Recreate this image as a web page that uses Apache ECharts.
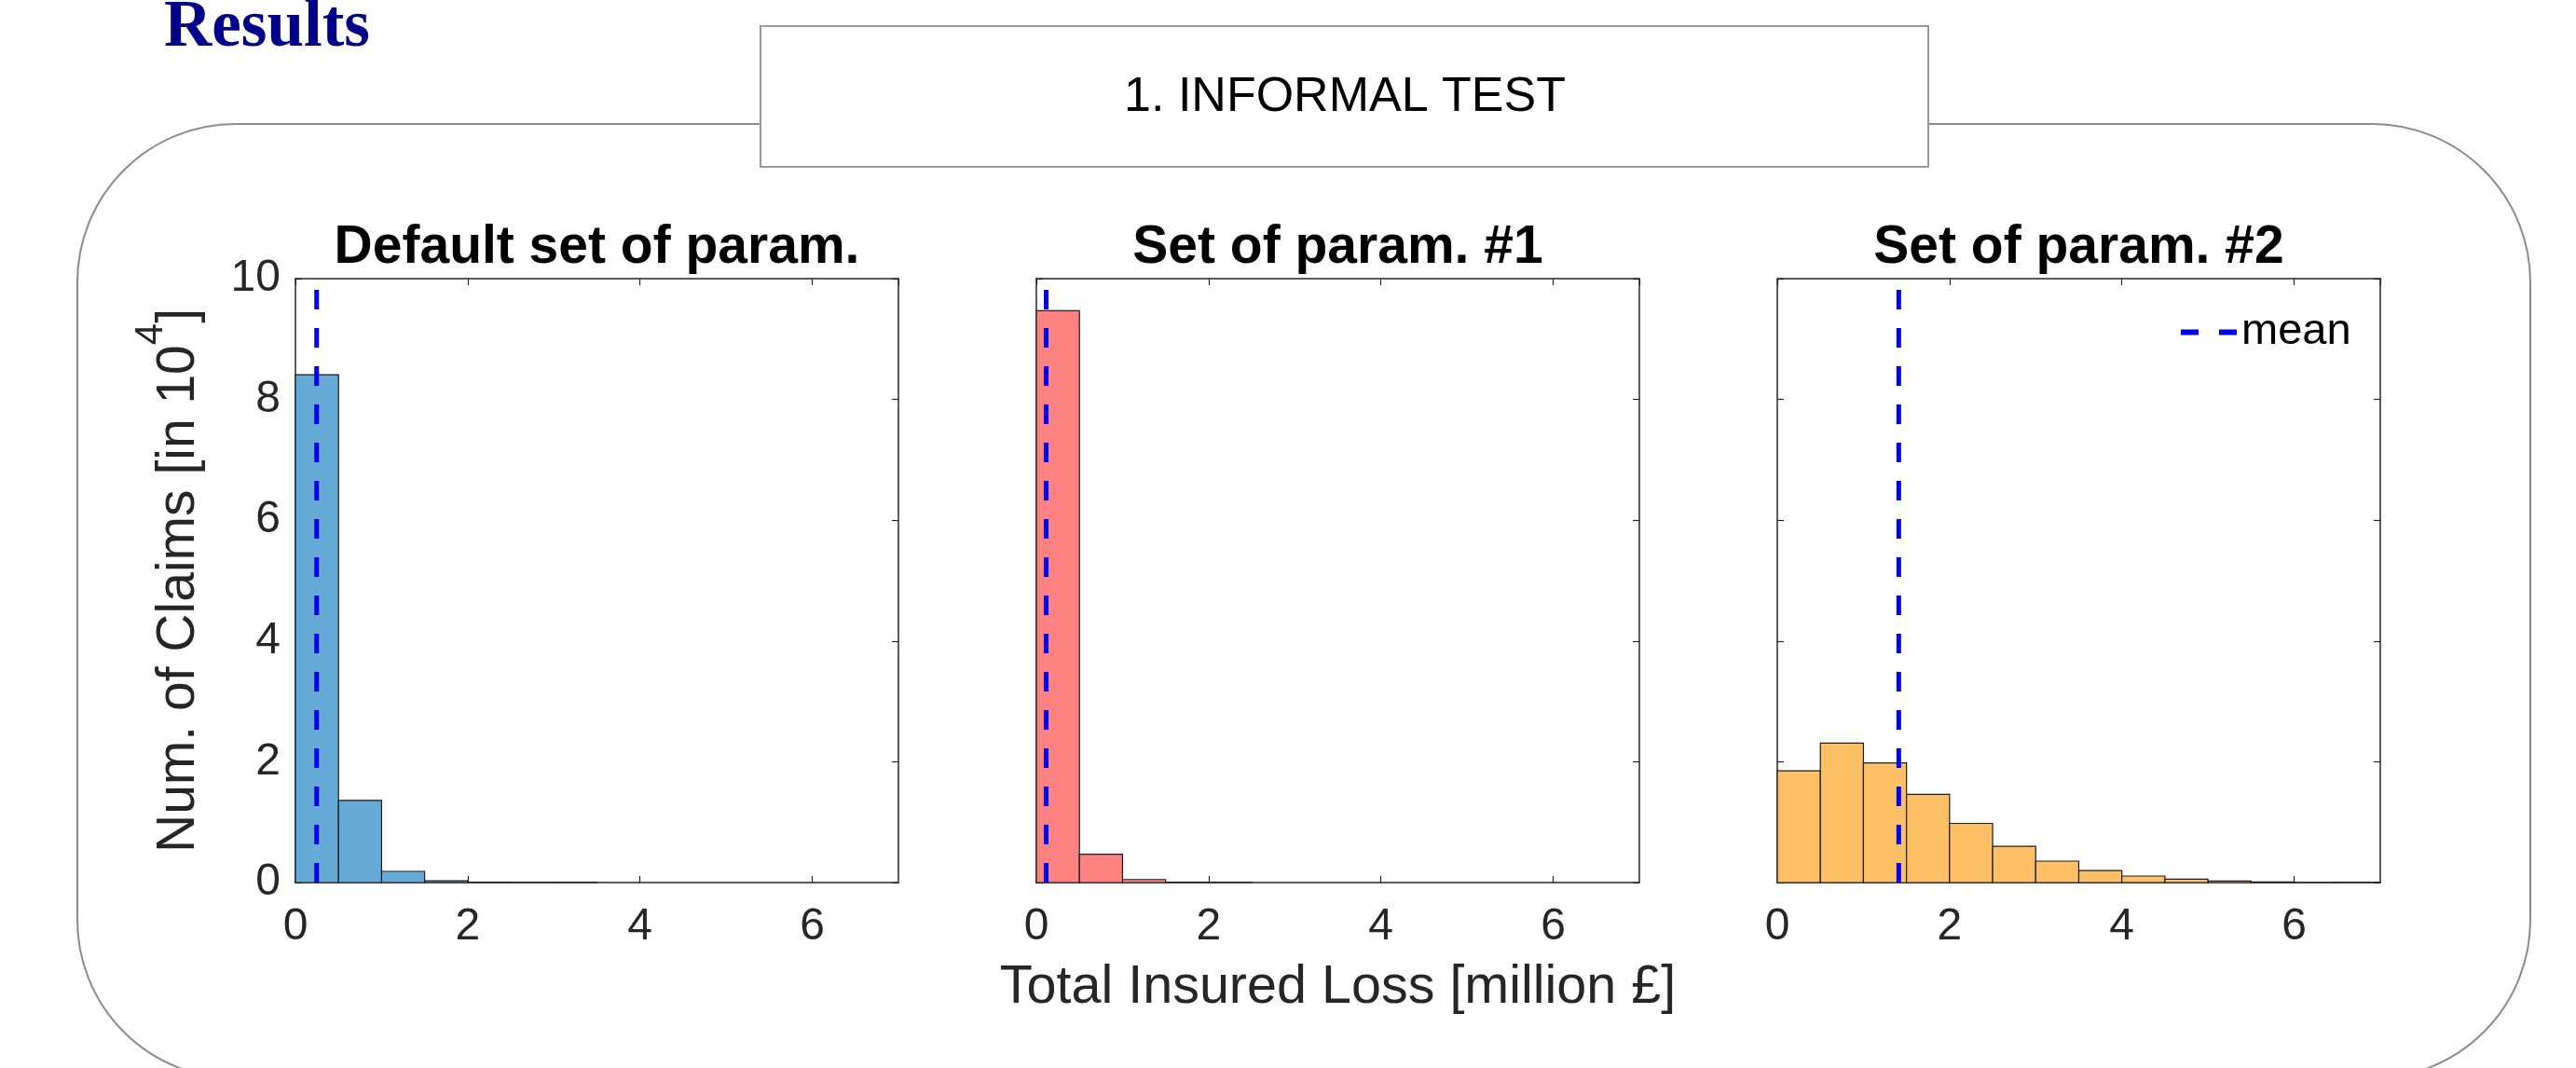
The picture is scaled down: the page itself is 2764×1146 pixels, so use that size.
<!DOCTYPE html>
<html>
<head>
<meta charset="utf-8">
<title>Results – informal test histograms</title>
<script src="https://cdn.jsdelivr.net/npm/echarts@6/dist/echarts.min.js"></script>
<style>
  html, body { margin: 0; padding: 0; background: #fff; }
  #chart { width: 2764px; height: 1146px; }
</style>
</head>
<body>
<div id="chart"></div>
<script>
// Histogram bin edges [million £]
const binEdges = [0, 0.5, 1, 1.5, 2, 2.5, 3, 3.5, 4, 4.5, 5, 5.5, 6, 6.5, 7];

// Number of claims per bin [in 10^4]
const countsDefault = [8.41, 1.36, 0.185, 0.03, 0.005, 0.002, 0.001, 0, 0, 0, 0, 0, 0, 0];
const countsSet1    = [9.47, 0.47, 0.05, 0.005, 0.001, 0, 0, 0, 0, 0, 0, 0, 0, 0];
const countsSet2    = [1.85, 2.31, 1.98, 1.46, 0.98, 0.60, 0.355, 0.20, 0.108, 0.057, 0.026, 0.01, 0.003, 0.001];

// Mean total insured loss of each run [million £]
const meanLoss = [0.246, 0.114, 1.41];

const panelTitles = ['Default set of param.', 'Set of param. #1', 'Set of param. #2'];
const panelColors = ['#66AAD7', '#FF8282', '#FDC066'];
const panelCounts = [countsDefault, countsSet1, countsSet2];

const xAxisName = 'Total Insured Loss [million £]';
const yAxisName = '{a|Num. of Claims [in 10}{sup|4}{a|]}';
const headerText = '1. INFORMAL TEST';
const pageHeading = 'Results';
const legendLabel = 'mean';

const FONT = '"Liberation Sans", Arial, Helvetica, sans-serif';
const AXIS_COLOR = '#262626';
const MEAN_COLOR = '#0000EE';

// Plot-box geometry of the three panels
const panelLeft = [317, 1112, 1907];
const panelWidth = 647;
const panelTop = 299;
const panelHeight = 648;

function histData(counts) {
  const out = [];
  for (let i = 0; i < counts.length; i++) {
    if (counts[i] > 0) out.push([binEdges[i], binEdges[i + 1], counts[i]]);
  }
  return out;
}

function makeRenderer(color) {
  return function (params, api) {
    const p0 = api.coord([api.value(0), api.value(2)]);
    const p1 = api.coord([api.value(1), 0]);
    return {
      type: 'rect',
      shape: { x: p0[0], y: p0[1], width: p1[0] - p0[0], height: p1[1] - p0[1] },
      style: { fill: color, stroke: '#1e1e1e', lineWidth: 1.2 }
    };
  };
}

const grids = [], xAxes = [], yAxes = [], series = [], titles = [];

panelLeft.forEach((left, i) => {
  grids.push({ left: left, top: panelTop, width: panelWidth, height: panelHeight,
               outerBoundsMode: 'none', containLabel: false });

  const axisLine = { show: true, onZero: false, lineStyle: { color: AXIS_COLOR, width: 1.5 } };
  const axisTick = { show: true, inside: true, length: 7, lineStyle: { color: AXIS_COLOR, width: 1.2 } };

  // bottom x axis (labelled)
  xAxes.push({
    type: 'value', gridIndex: i, position: 'bottom', min: 0, max: 7, interval: 2,
    axisLine, axisTick, splitLine: { show: false },
    axisLabel: { show: true, margin: 24, fontSize: 48, color: AXIS_COLOR, fontFamily: FONT, showMaxLabel: false },
    name: i === 1 ? xAxisName : '', nameLocation: 'middle', nameGap: 84,
    nameTextStyle: { fontSize: 57.5, color: AXIS_COLOR, fontFamily: FONT }
  });
  // top x axis (box edge, ticks only)
  xAxes.push({
    type: 'value', gridIndex: i, position: 'top', min: 0, max: 7, interval: 2,
    axisLine, axisTick, splitLine: { show: false }, axisLabel: { show: false }
  });
  // left y axis; the superscript is lifted by its bottom padding
  yAxes.push({
    type: 'value', gridIndex: i, position: 'left', min: 0, max: 10, interval: 2,
    axisLine, axisTick, splitLine: { show: false },
    axisLabel: { show: i === 0, margin: 16, fontSize: 48, color: AXIS_COLOR, fontFamily: FONT },
    name: i === 0 ? yAxisName : '', nameLocation: 'middle', nameRotate: 90, nameGap: 44,
    nameTextStyle: {
      color: AXIS_COLOR, fontFamily: FONT,
      rich: {
        a: { fontSize: 57, lineHeight: 57, color: AXIS_COLOR, fontFamily: FONT },
        sup: { fontSize: 42, lineHeight: 42, color: AXIS_COLOR, fontFamily: FONT, padding: [0, 0, 60, 0] }
      }
    }
  });
  // right y axis (box edge, ticks only)
  yAxes.push({
    type: 'value', gridIndex: i, position: 'right', min: 0, max: 10, interval: 2,
    axisLine, axisTick, splitLine: { show: false }, axisLabel: { show: false }
  });

  series.push({
    type: 'custom', name: panelTitles[i],
    xAxisIndex: 2 * i, yAxisIndex: 2 * i,
    renderItem: makeRenderer(panelColors[i]),
    encode: { x: [0, 1], y: 2 },
    data: histData(panelCounts[i]),
    z: 2
  });
  series.push({
    type: 'line', name: legendLabel,
    xAxisIndex: 2 * i, yAxisIndex: 2 * i,
    data: [[meanLoss[i], 0], [meanLoss[i], 10]],
    symbol: 'none', silent: true,
    itemStyle: { color: MEAN_COLOR },
    lineStyle: { color: MEAN_COLOR, width: 5, type: [21, 20], cap: 'butt' },
    z: 3
  });

  titles.push({
    text: panelTitles[i], left: left + panelWidth / 2, top: 238, textAlign: 'center', padding: 0,
    textStyle: { fontSize: 57, fontWeight: 'bold', color: '#000', fontFamily: FONT }
  });
});

const option = {
  animation: false,
  backgroundColor: '#fff',
  title: titles,
  grid: grids,
  xAxis: xAxes,
  yAxis: yAxes,
  series: series,
  legend: {
    data: [{ name: legendLabel, icon: 'path://M0,0H19V6H0Z M41,0H60V6H41Z' }],
    left: 2335, top: 328, padding: 5,
    itemWidth: 60, itemHeight: 7, itemGap: 10,
    itemStyle: { color: MEAN_COLOR, borderWidth: 0 },
    textStyle: { fontSize: 47, color: '#000', fontFamily: FONT },
    selectedMode: false
  },
  graphic: [
    {
      type: 'rect', z: 0, silent: true,
      shape: { x: 83, y: 133, width: 2632, height: 1024, r: 170 },
      style: { fill: 'none', stroke: '#8c8c8c', lineWidth: 2 }
    },
    {
      type: 'rect', z: 1, silent: true,
      shape: { x: 816, y: 28, width: 1253, height: 151 },
      style: { fill: '#fff', stroke: '#999', lineWidth: 2 }
    },
    {
      type: 'text', z: 2, silent: true, x: 1443, y: 105,
      style: { text: headerText, fontSize: 52, fontFamily: FONT, fill: '#000', align: 'center', verticalAlign: 'middle' }
    },
    {
      type: 'text', z: 2, silent: true, x: 176, y: 31,
      style: { text: pageHeading, fontSize: 71, fontWeight: 'bold', fontFamily: '"Liberation Serif", "Times New Roman", serif',
               fill: '#00008B', align: 'left', verticalAlign: 'middle' }
    }
  ]
};

const chart = echarts.init(document.getElementById('chart'), null, { renderer: 'canvas' });
chart.setOption(option);
</script>
</body>
</html>
